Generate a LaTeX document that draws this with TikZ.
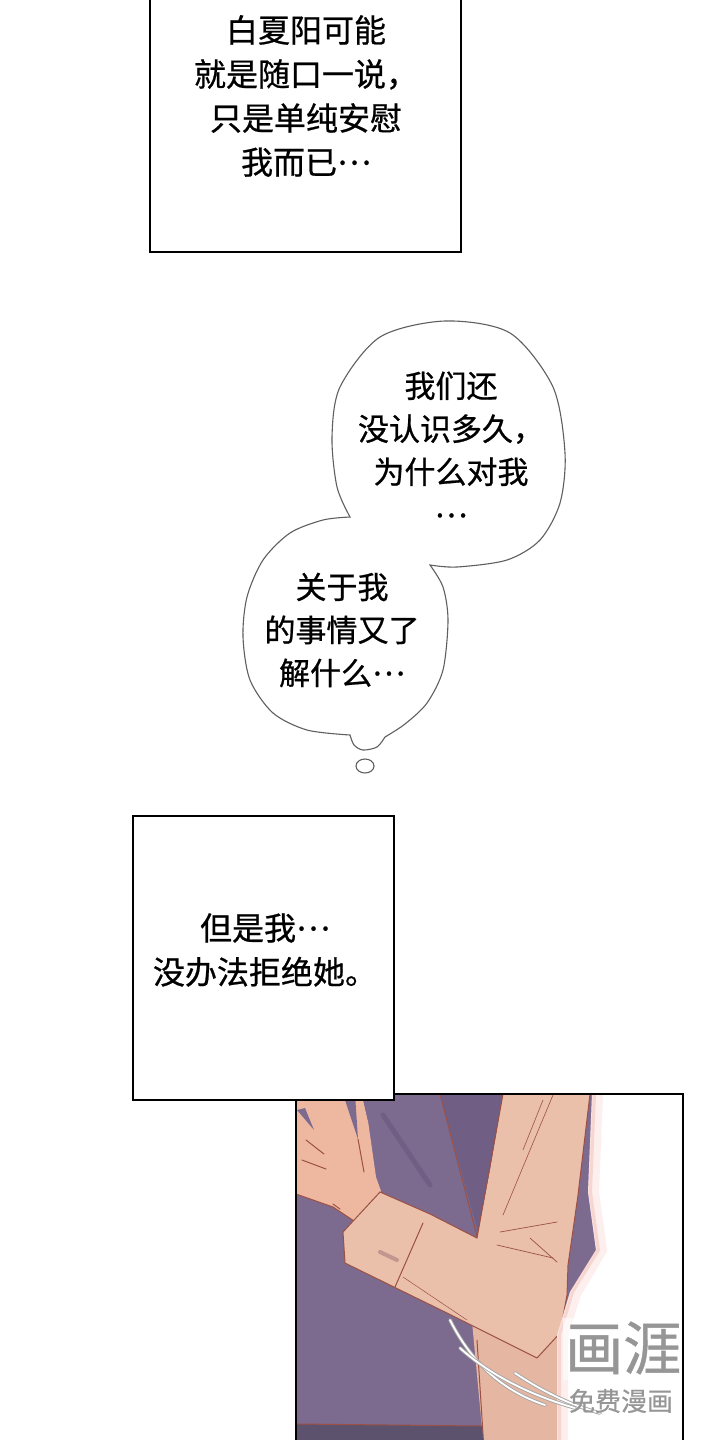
\documentclass[tikz,border=0pt]{standalone}
\usepackage{fontspec}
\setmainfont{Noto Sans CJK SC}[FakeBold=0.7]
\usetikzlibrary{positioning}
\definecolor{coat}{RGB}{124,106,143}
\definecolor{coatdark}{RGB}{112,94,132}
\definecolor{coatlow}{RGB}{92,82,110}
\definecolor{sleeve}{RGB}{234,192,170}
\definecolor{skin}{RGB}{238,184,160}
\definecolor{bodyskin}{RGB}{229,182,162}
\definecolor{inkline}{RGB}{156,80,68}
\definecolor{glow}{RGB}{240,170,160}
\definecolor{bubbleline}{RGB}{95,95,95}
\definecolor{markgray}{RGB}{150,150,150}
\newcommand{\dotsmid}{\raisebox{0.3em}{…}}
\tikzset{
  boxline/.style={draw=black,line width=2.6pt,fill=white},
  saytext/.style={align=center,inner sep=0pt,font=\fontsize{32}{44}\selectfont},
  thinktext/.style={align=center,inner sep=0pt,font=\fontsize{31}{43}\selectfont},
  bubble/.style={draw=bubbleline,line width=1.1pt,fill=white},
  artline/.style={draw=inkline,line width=1pt,line cap=round},
  speedgray/.style={draw=gray!70,line width=3.6pt,line cap=round},
  speedwhite/.style={draw=white,line width=1.8pt,line cap=round}
}
\begin{document}
\begin{tikzpicture}[x=1pt,y=-1pt]
	\useasboundingbox (0,0) rectangle (720,1440);
	\fill[white] (0,0) rectangle (720,1440);

	\draw[boxline] (150,-10) rectangle (461,252);
	\node[saytext] (first) at (306,96) {白夏阳可能\\就是随口一说，\\只是单纯安慰\\我而已\dotsmid};

	\draw[bubble] plot[smooth] coordinates {(350,517) (337,487) (332,437) (340,387) (380,337) (445,321) (510,333) (553,387) (565,453) (560,503) (540,540) (507,560) (457,567) (430,565)}
		-- plot[smooth] coordinates {(430,565) (443,587) (448,620) (443,670) (427,703) (405,724) (385,737)}
		-- plot[smooth] coordinates {(385,737) (377,747) (363,750) (354,745) (350,735)}
		-- plot[smooth] coordinates {(350,735) (307,730) (273,713) (250,680) (243,637) (247,597) (263,560) (290,533) (323,520) (350,517)} -- cycle;
	\draw[bubble] (365,766) ellipse [x radius=9pt, y radius=7pt];
	\node[thinktext] (ask) at (451,449) {我们还\\没认识多久，\\为什么对我\\\dotsmid};
	\node[thinktext] (know) at (342,630) {关于我\\的事情又了\\解什么\dotsmid};

	\begin{scope}
		\clip (296,1094) rectangle (683,1450);
		\fill[coat] (296,1094) rectangle (683,1450);
		\fill[coatdark] (440,1094) -- (505,1094) -- (480,1240) -- cycle;
		\draw[artline] (440,1094) -- (478,1240);
		\draw[coatdark,line width=5pt,line cap=round] (383,1115) -- (430,1185);

		\fill[bodyskin] (470,1300) -- (560,1290) -- (560,1450) -- (484,1450) -- cycle;
		\draw[artline] (477,1340) -- (484,1450);

		\fill[skin] (296,1096) -- (362,1096) -- (368,1121) -- (376,1177) -- (381,1191) -- (363,1227) -- (333,1207) -- (296,1194) -- cycle;
		\fill[coat] (343,1094) -- (355,1094) -- (358,1139) -- cycle;
		\fill[coat] (362,1094) -- (380,1094) -- (380,1130) -- (368,1121) -- cycle;
		\fill[coat] (297,1110) -- (305,1108) -- (314,1130) -- cycle;
		\draw[artline] (358,1139) -- (364,1172);
		\draw[artline] (306,1140) -- (324,1154);
		\draw[artline] (302,1160) -- (326,1169);
		\draw[artline] (296,1194) -- (333,1207) -- (363,1227);
		\draw[artline] (333,1204) -- (340,1209);

		\fill[sleeve] (380,1192) -- (430,1214) -- (477,1238) -- (490,1170) -- (503,1094) -- (590,1094) -- (578,1195) -- (568,1265) -- (567,1295) -- (560,1333) -- (537,1358) -- (447,1313) -- (345,1263) -- (343,1232) -- cycle;
		\draw[artline] (380,1192) -- (343,1232) -- (345,1263) -- (447,1313) -- (537,1358) -- (560,1333) -- (567,1295);
		\draw[artline] (590,1094) -- (578,1195) -- (568,1265) -- (567,1295);
		\draw[artline] (503,1094) -- (477,1238);
		\draw[artline] (380,1192) -- (430,1214) -- (477,1238);
		\draw[artline] (423,1223) -- (395,1287);
		\draw[artline,line width=0.6pt] (553,1095) .. controls (530,1150) .. (503,1215);
		\draw[artline,line width=0.6pt] (543,1100) -- (523,1150);
		\draw[artline,line width=0.7pt] (500,1232) -- (557,1222);
		\draw[artline,line width=0.7pt] (497,1245) -- (553,1258);
		\draw[artline,line width=0.7pt] (530,1238) -- (557,1262);
		\draw[artline,line width=0.5pt] (403,1277) -- (467,1320);
		\draw[inkline!60,line width=4pt,line cap=round] (380,1252) -- (397,1260);

		\fill[white] (592,1094) -- (700,1094) -- (700,1450) -- (557,1450) -- (557,1335) -- (570,1292) -- (596,1250) -- (588,1192) -- cycle;
		\draw[glow,line width=10pt,opacity=0.18] (598,1094) -- (594,1192) -- (602,1250) -- (576,1294) -- (563,1336) -- (563,1450);
		\draw[glow,line width=4pt,opacity=0.35] (594,1094) -- (590,1192) -- (598,1250) -- (572,1292) -- (559,1335) -- (559,1450);

		\fill[coatlow] (296,1424) -- (482,1426) -- (484,1450) -- (296,1450) -- cycle;
		\draw[artline] (296,1424) -- (482,1426);

		\draw[speedgray] (450,1320) .. controls (470,1360) and (500,1390) .. (545,1405);
		\draw[speedwhite] (450,1320) .. controls (470,1360) and (500,1390) .. (545,1405);
		\draw[speedgray] (460,1348) .. controls (490,1375) and (530,1395) .. (575,1408);
		\draw[speedwhite] (460,1348) .. controls (490,1375) and (530,1395) .. (575,1408);
		\draw[speedgray] (515,1373) .. controls (540,1390) and (570,1405) .. (600,1413);
		\draw[speedwhite] (515,1373) .. controls (540,1390) and (570,1405) .. (600,1413);

		\fill[white,opacity=0.6] (563,1318) rectangle (690,1380);
		\node[text=markgray,font=\fontsize{58}{58}\selectfont,inner sep=0pt,anchor=west] (brand) at (565,1348) {画涯};
		\node[text=markgray,font=\fontsize{26}{26}\selectfont,inner sep=0pt] (free) at (621,1401) {免费漫画};
	\end{scope}
	\draw[line width=2.6pt] (296,1094) rectangle (683,1450);

	\draw[boxline] (133,816) rectangle (394,1100);
	\node[saytext] (refuse) at (265,950) {但是我\dotsmid\\没办法拒绝她。};
\end{tikzpicture}
\end{document}
